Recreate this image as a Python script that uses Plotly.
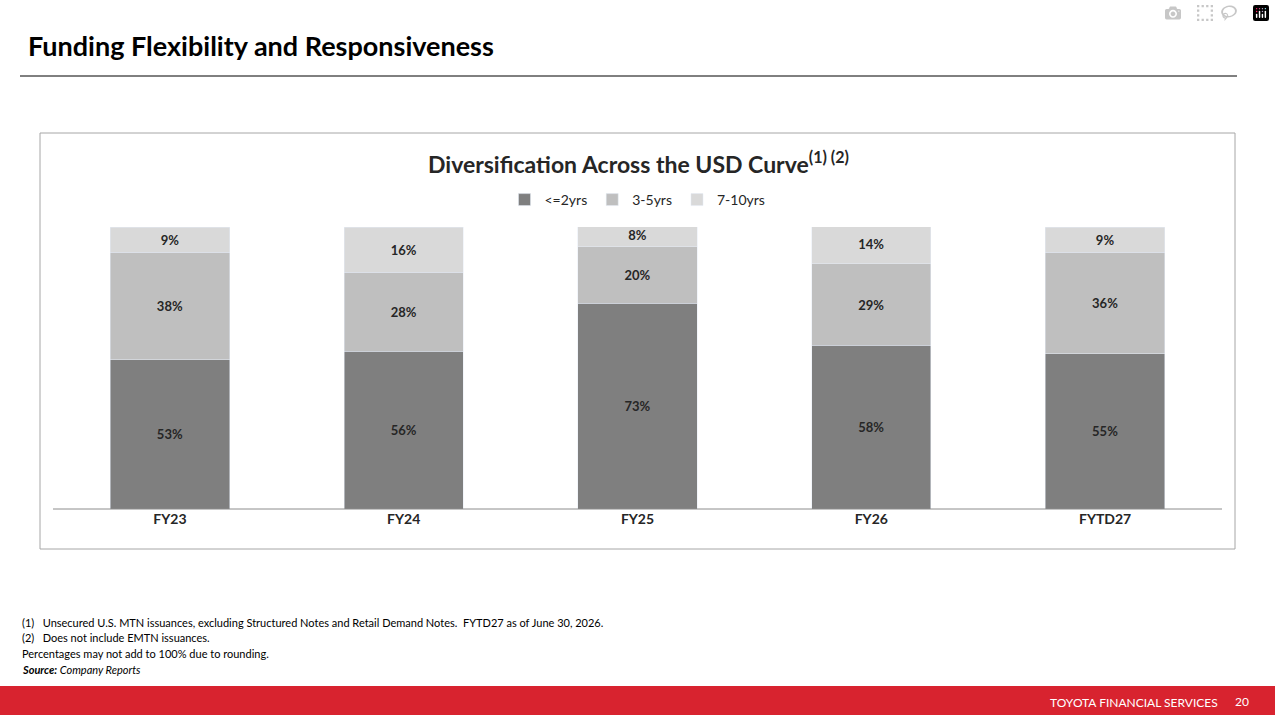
import plotly.graph_objects as go

W, H = 1275, 715

years = ['FY23', 'FY24', 'FY25', 'FY26', 'FYTD27']
series = {
    '<=2yrs': [53, 56, 73, 58, 55],
    '3-5yrs': [38, 28, 20, 29, 36],
    '7-10yrs': [9, 16, 8, 14, 9],
}
colors = {'<=2yrs': '#7f7f7f', '3-5yrs': '#bfbfbf', '7-10yrs': '#d9d9d9'}
font_name = 'Lato'

fig = go.Figure()
for name, vals in series.items():
    fig.add_trace(go.Bar(
        x=years, y=vals, name=name, marker_color=colors[name], width=0.51,
        text=[f"<b>{v}%</b>" for v in vals], textposition='inside', insidetextanchor='middle',
        textfont=dict(color='#262626', size=13, family=font_name),
        hoverinfo='skip',
    ))

def px(x):
    return x / W

def py(y):
    return 1 - y / H

shapes = [
    # title underline
    dict(type='line', xref='paper', yref='paper', x0=px(20), x1=px(1237), y0=py(76), y1=py(76),
         line=dict(color='#000000', width=1)),
    # chart box
    dict(type='rect', xref='paper', yref='paper', x0=px(40), x1=px(1235), y0=py(133), y1=py(549),
         line=dict(color='#a6a6a6', width=1)),
    # baseline
    dict(type='line', xref='paper', yref='paper', x0=px(53), x1=px(1222), y0=py(509), y1=py(509),
         line=dict(color='#8c8c8c', width=1)),
    # red footer band
    dict(type='rect', xref='paper', yref='paper', x0=0, x1=1, y0=0, y1=py(686),
         fillcolor='#d8232f', line=dict(width=0), layer='below'),
]

notes = [
    "(1)   Unsecured U.S. MTN issuances, excluding Structured Notes and Retail Demand Notes.  FYTD27 as of June 30, 2026.",
    "(2)   Does not include EMTN issuances.",
    "Percentages may not add to 100% due to rounding.",
    "<b><i>Source:</i></b><i> Company Reports</i>",
]
annotations = [
    dict(text="<b>Funding Flexibility and Responsiveness</b>", x=px(26), y=py(46), xref='paper', yref='paper',
         xanchor='left', yanchor='middle', showarrow=False, font=dict(size=27, color='#000000', family=font_name)),
    dict(text="<b>Diversification Across the USD Curve<sup>(1) (2)</sup></b>", x=px(638), y=py(162),
         xref='paper', yref='paper', xanchor='center', yanchor='middle', showarrow=False,
         font=dict(size=23, color='#262626', family=font_name)),
    dict(text="TOYOTA FINANCIAL SERVICES", x=px(1220), y=py(702), xref='paper', yref='paper',
         xanchor='right', yanchor='middle', showarrow=False, font=dict(size=12, color='white', family=font_name)),
    dict(text="20", x=px(1251), y=py(701), xref='paper', yref='paper',
         xanchor='right', yanchor='middle', showarrow=False, font=dict(size=12, color='white', family=font_name)),
]
for i, t in enumerate(notes):
    annotations.append(dict(text=t, x=px(20), y=py(622 + i * 15.7), xref='paper', yref='paper',
                            xanchor='left', yanchor='middle', showarrow=False,
                            font=dict(size=11, color='#000000', family=font_name)))

fig.update_layout(
    barmode='stack',
    width=W, height=H,
    margin=dict(l=0, r=0, t=0, b=0),
    paper_bgcolor='white', plot_bgcolor='white',
    font=dict(family=font_name, color='#262626'),
    xaxis=dict(domain=[px(53), px(1222)], showgrid=False, showline=False, ticks='',
               tickvals=years, ticktext=[f"<b>{y}</b>" for y in years],
               tickfont=dict(size=14, color='#262626'), fixedrange=True),
    yaxis=dict(domain=[py(509), py(227)], range=[0, 100], visible=False, fixedrange=True),
    legend=dict(orientation='h', x=0.5, xanchor='center', y=py(200), yanchor='middle',
                font=dict(size=14, color='#262626'), traceorder='normal'),
    bargap=0.49,
    shapes=shapes,
    annotations=annotations,
)

fig.write_html("out.html", post_script="document.body.style.margin='0';document.body.style.overflow='hidden';")
